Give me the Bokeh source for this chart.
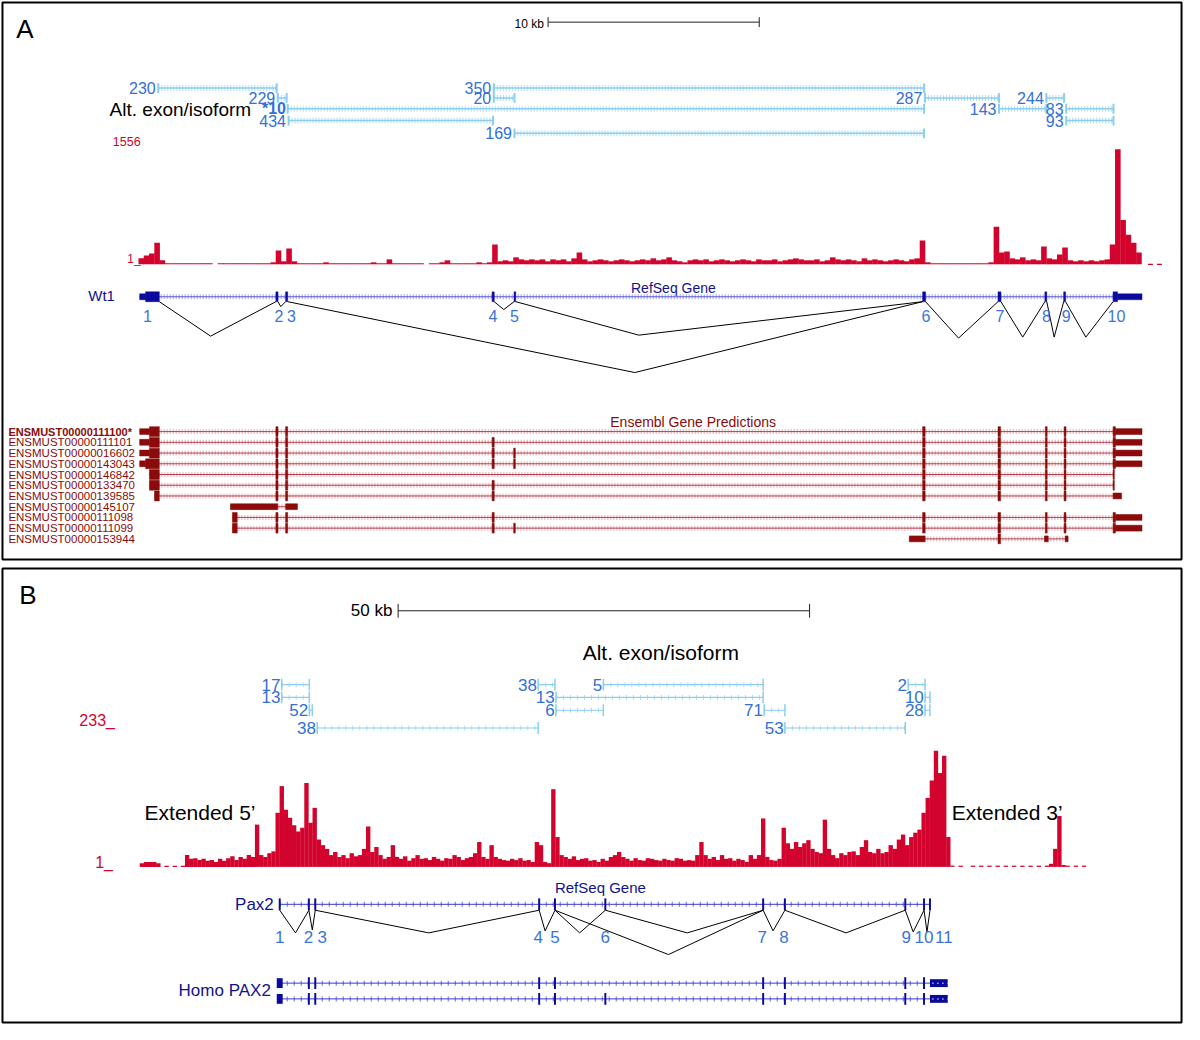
from bokeh.plotting import figure
from bokeh.models import Range1d
from bokeh.layouts import column
from bokeh.embed import file_html
from bokeh.resources import INLINE
from bokeh.core.properties import value

# =====================================================================
# DATA  (genomic positions in kb; coverage in reads)
# =====================================================================
# ---- Panel A : mouse Wt1 (kb from the Wt1 start) --------------------
A_SCALE_KB = 10
A_ALT_LABEL = ["230", "350", "229", "20", "287", "244", "*10", "143", "83", "434", "93", "169"]
A_ALT_START = [0.93, 16.82, 6.59, 16.82, 37.24, 42.99, 7.06, 40.75, 43.93, 7.10, 43.93, 17.80]
A_ALT_END = [6.54, 37.20, 7.01, 17.80, 40.75, 43.83, 37.20, 42.99, 46.17, 16.78, 46.17, 37.20]
A_ALT_ROW = [0, 0, 1, 1, 1, 1, 2, 2, 2, 3, 3, 4]

A_COV_MAX = 1556
A_COV_BIN_KB = 0.25
A_COV = [
    76, 114, 139, 278, 51,
    13, 13, 13, 13, 13, 13, 13, 13, 13, 0, 13, 13, 13, 13, 13, 13, 13, 13, 13, 13, 25,
    177, 38, 202, 38,
    13, 13, 13, 13, 13, 25, 13, 13, 13, 13, 13, 13, 13, 13, 25, 13, 13, 63, 13, 13,
    13, 13, 13, 13, 0, 13, 13, 25, 51, 13, 13, 13, 13, 13, 25, 13, 25,
    253,
    38, 51, 38, 89, 63, 51, 63, 51, 63, 38, 63, 51, 63, 38, 76, 152, 63, 38, 51, 63,
    51, 38, 51, 63, 51, 38, 51, 63, 51, 76, 51, 63, 89, 51, 38, 25, 51, 63, 51, 63,
    38, 51, 63, 51, 38, 51, 63, 51, 38, 63, 51, 51, 63, 38, 51, 63, 76, 63, 51, 51,
    63, 38, 51, 89, 63, 51, 63, 51, 38, 76, 51, 63, 51, 38, 51, 63, 51, 38, 63, 76,
    304, 25,
    13, 13, 13, 13, 13, 13, 13, 13, 13, 13, 13, 25,
    481, 152, 164, 76, 63, 89, 51, 63, 51,
    228, 76, 63, 127, 215, 51, 38, 51, 38, 51, 38, 51, 63,
    253, 1480, 569, 380, 278, 152,
]

A_GENE_NAME = "Wt1"
A_REF_BLOCK_START = [0.05, 0.33, 6.50, 6.96, 16.74, 17.78, 37.13, 40.70, 42.92, 43.81, 46.15, 46.36]
A_REF_BLOCK_END = [0.33, 0.98, 6.60, 7.06, 16.84, 17.86, 37.27, 40.84, 43.01, 43.90, 46.36, 47.52]
A_REF_BLOCK_CDS = [0, 1, 1, 1, 1, 1, 1, 1, 1, 1, 1, 0]
A_EXON_NUM = ["1", "2", "3", "4", "5", "6", "7", "8", "9", "10"]
A_EXON_NUM_KB = [0.42, 6.64, 7.24, 16.78, 17.80, 37.29, 40.79, 42.99, 43.93, 46.31]
# splice junctions: donor kb, acceptor kb, apex kb, apex depth (px row)
A_JUNC_FROM = [0.98, 6.60, 7.06, 16.84, 17.86, 37.27, 40.84, 43.01, 43.90]
A_JUNC_TO = [6.50, 6.96, 37.13, 17.78, 37.13, 40.70, 42.92, 43.81, 46.15]
A_JUNC_APEX = [3.41, 6.73, 23.50, 17.29, 23.69, 38.83, 41.87, 43.36, 44.86]
A_JUNC_DEPTH = [341, 311, 378, 314, 340, 343, 342, 342, 342]

ENS_NAMES = ["ENSMUST00000111100*", "ENSMUST00000111101", "ENSMUST00000016602",
             "ENSMUST00000143043", "ENSMUST00000146842", "ENSMUST00000133470",
             "ENSMUST00000139585", "ENSMUST00000145107", "ENSMUST00000111098",
             "ENSMUST00000111099", "ENSMUST00000153944"]
ENS_PARTS = {
    "u1a": (0.05, 0.51, 0), "c1a": (0.51, 0.98, 1), "u1b": (0.05, 0.33, 0),
    "c1b": (0.33, 0.98, 1), "c1c": (0.75, 0.98, 1),
    "x0": (4.35, 6.59, 0), "x1": (6.96, 7.52, 0), "x2": (4.44, 4.67, 1),
    "e2": (6.50, 6.60, 1), "e3": (6.96, 7.06, 1), "e4": (16.74, 16.84, 1),
    "e5": (17.76, 17.84, 1), "e6": (37.13, 37.25, 1), "e7": (40.70, 40.82, 1),
    "e8": (42.94, 43.03, 1), "e9": (43.83, 43.92, 1),
    "c10": (46.15, 46.26, 1), "u10": (46.26, 47.52, 0),
    "t10": (46.15, 46.21, 1), "s10": (46.15, 46.55, 0),
    "y0": (36.50, 37.25, 0), "y8": (42.90, 43.08, 0), "y9": (43.88, 44.02, 0),
}
ENS_TRANSCRIPTS = [
    "u1a c1a e2 e3 e6 e7 e8 e9 c10 u10",
    "u1a c1a e2 e3 e4 e6 e7 e8 e9 c10 u10",
    "u1a c1a e2 e3 e4 e5 e6 e7 e8 e9 c10 u10",
    "u1b c1b e2 e3 e4 e5 e6 e7 e8 e9 c10 u10",
    "c1a e2 e3 e6 e7 e8 e9 t10",
    "c1a e2 e3 e4 e6 e7 e8 e9 t10",
    "c1c e2 e3 e4 e6 e7 e8 e9 s10",
    "x0 x1",
    "x2 e2 e3 e4 e6 e7 e8 e9 c10 u10",
    "x2 e2 e3 e4 e5 e6 e7 e8 e9 c10 u10",
    "y0 e7 y8 y9",
]

# ---- Panel B : mouse Pax2 (kb from Pax2 exon 1) ---------------------
B_SCALE_KB = 50
B_ALT_LABEL = ["17", "38", "5", "2", "13", "13", "10", "52", "6", "71", "28", "38", "53"]
B_ALT_START = [0.24, 31.41, 39.33, 76.38, 0.24, 33.57, 78.42, 3.60, 33.57, 58.87, 78.42, 4.56, 61.39]
B_ALT_END = [3.60, 33.45, 58.75, 78.42, 3.60, 58.75, 79.02, 3.96, 39.33, 61.39, 79.02, 31.41, 76.02]
B_ALT_ROW = [0, 0, 0, 0, 1, 1, 1, 2, 2, 2, 2, 3, 3]

B_COV_MAX = 233
B_COV_START_KB = -17.0
B_COV_BIN_KB = 0.5
B_COV = [
    6, 8, 8, 8, 6, 0, 2, 0, 2, 0, 2,
    19, 13, 14, 11, 13, 10, 11, 8, 13, 10, 14, 17, 11, 16, 13, 19, 16,
    68, 19, 16, 22, 25,
    87, 130, 92, 79, 67, 57, 63, 135, 71, 95,
    44, 35, 29, 19, 24, 16, 19, 14, 22, 17,
    19, 29, 65, 24, 32, 19, 13, 16, 35, 16,
    13, 17, 10, 14, 19, 13, 14, 11, 16, 13,
    10, 14, 13, 19, 16, 11, 14, 16, 22, 40,
    16, 13, 35, 16, 13, 11, 10, 13, 11, 14,
    10, 11, 8, 40, 35, 8, 6, 125, 48, 19,
    16, 13, 17, 11, 13, 14, 10, 11, 8, 13,
    10, 16, 19, 24, 16, 13, 10, 14, 11, 10,
    14, 13, 11, 10, 13, 11, 10, 14, 13, 10,
    11, 10, 19, 40, 19, 13, 16, 11, 19, 13,
    14, 10, 13, 11, 8, 19, 13, 19, 78, 16,
    11, 10, 13, 63, 38, 29, 40, 32, 38, 43,
    29, 24, 22, 76, 29, 19, 14, 22, 19, 24,
    25, 19, 32, 43, 24, 22, 29, 22, 24, 35,
    29, 44, 52, 35, 48, 55, 60, 87, 111, 139,
    187, 151, 179, 48,
    2, 0, 2, 0, 0, 2, 0, 2, 0, 2, 0, 2, 0, 2, 0, 2, 0, 2, 0, 2, 0, 2, 0, 2,
    5, 29, 82, 3, 2, 0, 2, 0, 2,
]

B_GENE_NAME = "Pax2"
B_EXON_NUM = ["1", "2", "3", "4", "5", "6", "7", "8", "9", "10", "11"]
B_EXON_KB = [0.0, 3.54, 4.32, 31.53, 33.45, 39.57, 58.75, 61.39, 76.02, 78.30, 79.02]
B_EXON_NUM_KB = [0.0, 3.48, 5.16, 31.41, 33.45, 39.57, 58.63, 61.27, 76.14, 78.30, 80.70]
B_JUNC_FROM = [0, 1, 2, 3, 4, 4, 5, 6, 7, 8, 9]
B_JUNC_TO = [1, 2, 3, 4, 5, 6, 6, 7, 8, 9, 10]
B_JUNC_APEX = [1.92, 3.96, 18.11, 32.25, 36.45, 47.24, 49.52, 59.95, 68.82, 76.98, 78.66]
B_JUNC_DEPTH = [947, 944, 947, 945, 947, 969, 947, 945, 947, 946, 946]

HOMO_NAME = "Homo PAX2"
HOMO_ROW_EXONS = [[1, 2, 3, 4, 6, 7, 8, 9], [1, 2, 3, 4, 5, 6, 7, 8, 9]]
HOMO_FIRST = (-0.36, 0.36)
HOMO_LAST = (79.02, 81.18)

# =====================================================================
# STYLE / LAYOUT  (reference-pixel layout, scaled into 1184 x 1024)
# =====================================================================
W = 1184
SPLIT = 571                       # reference y where panel A's figure ends
HA = round(SPLIT * 1024 / 1040)
HB = 1024 - HA
FONT = "Liberation Sans"
RED = "#d2042d"
ALT_TXT = "#3370d8"
ALT_LINE = "#8ccdf0"
ALT_TICK = "#b0def6"
NAVY = "#12128c"
EXON_BLUE = "#0a0a9c"
GENE_LINE = "#5a5ad8"
GENE_TICK = "#a4a4f0"
ENS = "#8b0a0a"
ENS_LINE = "#b04050"
ENS_TICK = "#e6a8b0"
NUM_BLUE = "#3b74dc"

A_PX0, A_PXKB = 140.0, 21.4      # reference pixel of kb 0, pixels per kb
B_PX0, B_PXKB = 283.0, 8.34


def ax(px):
    return (px - A_PX0) / A_PXKB


def bx(px):
    return (px - B_PX0) / B_PXKB


def make_fig(x0, x1, ytop, ybot, h):
    p = figure(width=W, height=h, x_range=Range1d(x0, x1), y_range=Range1d(ybot, ytop),
               output_backend="svg", toolbar_location=None,
               x_axis_location=None, y_axis_location=None,
               min_border_left=0, min_border_right=0, min_border_top=0, min_border_bottom=0)
    p.grid.visible = False
    p.outline_line_color = None
    p.background_fill_color = "white"
    p.border_fill_color = "white"
    return p


def txt(p, x, y, s, size, color="black", align="left", style="normal"):
    p.text(x=x, y=y, text=s, text_font=value(FONT), text_font_size=value(f"{size}px"),
           text_color=color, text_align=align, text_baseline="middle", text_font_style=style)


def hatched(p, x0, x1, y, base, tick, dash, base_w=1.0, tick_w=5):
    p.segment(x0=x0, y0=y, x1=x1, y1=y, line_color=tick, line_width=tick_w, line_dash=dash)
    p.segment(x0=x0, y0=y, x1=x1, y1=y, line_color=base, line_width=base_w)


def cov_range(base, top, vmax, ybot, ytop):
    k = vmax / (base - top)
    return Range1d(start=(base - ybot) * k, end=(base - ytop) * k)


# =====================================================================
# PANEL A
# =====================================================================
pA = make_fig(ax(0), ax(1200), 0, SPLIT, HA)
pA.quad(left=[ax(2)], right=[ax(1197)], top=[2], bottom=[568],
        fill_color=None, line_color="black", line_width=2)
txt(pA, [ax(16)], [29], ["A"], 26)

# scale bar
sb = ax(555)
pA.segment([sb], [22], [sb + A_SCALE_KB], [22], line_color="#222222", line_width=1)
pA.segment([sb, sb + A_SCALE_KB], [17, 17], [sb, sb + A_SCALE_KB], [27, 27], line_color="#222222")
txt(pA, [sb - 0.2], [24], [f"{A_SCALE_KB} kb"], 12, align="right")

# alternative exons / isoforms
A_ROW_Y = [89, 99, 110, 122, 135]
ay = [A_ROW_Y[r] for r in A_ALT_ROW]
hatched(pA, A_ALT_START, A_ALT_END, ay, ALT_LINE, ALT_TICK, "1 2", 1.5, 6)
pA.segment(A_ALT_START + A_ALT_END, [y - 5 for y in ay] * 2, A_ALT_START + A_ALT_END,
           [y + 5 for y in ay] * 2, line_color=ALT_LINE, line_width=2)
norm = [i for i, s in enumerate(A_ALT_LABEL) if not s.startswith("*")]
bold = [i for i, s in enumerate(A_ALT_LABEL) if s.startswith("*")]
txt(pA, [A_ALT_START[i] - 0.12 for i in norm], [ay[i] for i in norm], [A_ALT_LABEL[i] for i in norm],
    16, ALT_TXT, align="right")
txt(pA, [A_ALT_START[i] - 0.08 for i in bold], [ay[i] for i in bold], [A_ALT_LABEL[i] for i in bold],
    16, ALT_TXT, align="right", style="bold")
txt(pA, [ax(254)], [111], ["Alt. exon/isoform"], 19, align="right")

# coverage
A_BASE, A_TOP = 268, 145
pA.extra_y_ranges = {"cov": cov_range(A_BASE, A_TOP, A_COV_MAX, SPLIT, 0)}
axc = [(i + 0.5) * A_COV_BIN_KB for i in range(len(A_COV))]
pA.vbar(x=axc, width=A_COV_BIN_KB * 1.06, top=A_COV, bottom=0, y_range_name="cov",
        fill_color=RED, line_color=None)
pA.segment([len(A_COV) * A_COV_BIN_KB + 0.3], [A_BASE], [len(A_COV) * A_COV_BIN_KB + 1.1], [A_BASE],
           line_color=RED, line_width=1.2, line_dash="5 4")
txt(pA, [ax(142)], [143], [str(A_COV_MAX)], 12.5, RED, align="right")
txt(pA, [ax(142)], [263], ["1_"], 12, RED, align="right")

# RefSeq gene
A_GENE_Y = 301
txt(pA, [ax(682)], [292], ["RefSeq Gene"], 14, NAVY, align="center")
txt(pA, [ax(116)], [300], [A_GENE_NAME], 15, NAVY, align="right")
hatched(pA, [A_REF_BLOCK_START[0]], [A_REF_BLOCK_END[-1]], [A_GENE_Y], GENE_LINE, GENE_TICK, "1 2", 1, 5)
pA.quad(left=A_REF_BLOCK_START, right=A_REF_BLOCK_END,
        top=[A_GENE_Y - (5 if c else 3) for c in A_REF_BLOCK_CDS],
        bottom=[A_GENE_Y + (5 if c else 3) for c in A_REF_BLOCK_CDS],
        fill_color=EXON_BLUE, line_color=EXON_BLUE, line_width=0.5)
A_JUNC_TOP = 306
pA.multi_line(xs=[[a, m, b] for a, m, b in zip(A_JUNC_FROM, A_JUNC_APEX, A_JUNC_TO)],
              ys=[[A_JUNC_TOP, d, A_JUNC_TOP] for d in A_JUNC_DEPTH], line_color="black", line_width=1)
txt(pA, A_EXON_NUM_KB, [321] * len(A_EXON_NUM), A_EXON_NUM, 16, NUM_BLUE, align="center")

# Ensembl predictions
txt(pA, [ax(702)], [428], ["Ensembl Gene Predictions"], 14, ENS, align="center")
ENS_Y0, ENS_DY = 438, 10.9
ens_y = [ENS_Y0 + k * ENS_DY for k in range(len(ENS_NAMES))]
l0, l1, ly = [], [], []
bl, br, bt, bb = [], [], [], []
for k, t in enumerate(ENS_TRANSCRIPTS):
    parts = [ENS_PARTS[c] for c in t.split()]
    l0.append(min(s for s, e, c in parts))
    l1.append(max(e for s, e, c in parts))
    ly.append(ens_y[k])
    for s, e, c in parts:
        h = 5 if c else 3
        bl.append(s); br.append(e); bt.append(ens_y[k] - h); bb.append(ens_y[k] + h)
hatched(pA, l0, l1, ly, ENS_LINE, ENS_TICK, "1 2", 1, 5)
pA.quad(left=bl, right=br, top=bt, bottom=bb, fill_color=ENS, line_color=ENS, line_width=0.5)
txt(pA, [ax(8)], [ens_y[0]], [ENS_NAMES[0]], 11, ENS, style="bold")
txt(pA, [ax(8)] * (len(ENS_NAMES) - 1), ens_y[1:], ENS_NAMES[1:], 11.5, ENS)

# =====================================================================
# PANEL B
# =====================================================================
pB = make_fig(bx(0), bx(1200), SPLIT, 1040, HB)
pB.quad(left=[bx(2)], right=[bx(1197)], top=[577], bottom=[1038],
        fill_color=None, line_color="black", line_width=2)
txt(pB, [bx(19)], [604], ["B"], 26)

sbB = bx(403)
pB.segment([sbB], [620], [sbB + B_SCALE_KB], [620], line_color="#222222", line_width=1)
pB.segment([sbB, sbB + B_SCALE_KB], [613, 613], [sbB, sbB + B_SCALE_KB], [627, 627], line_color="#222222")
txt(pB, [sbB - 0.7], [620], [f"{B_SCALE_KB} kb"], 17, align="right")

txt(pB, [bx(590)], [662], ["Alt. exon/isoform"], 21)
B_ROW_Y = [695, 708, 721, 739]
by = [B_ROW_Y[r] for r in B_ALT_ROW]
hatched(pB, B_ALT_START, B_ALT_END, by, ALT_LINE, ALT_TICK, "1 6", 1.2, 5)
pB.segment(B_ALT_START + B_ALT_END, [y - 6 for y in by] * 2, B_ALT_START + B_ALT_END,
           [y + 6 for y in by] * 2, line_color=ALT_LINE, line_width=1.5)
txt(pB, [s - 0.15 for s in B_ALT_START], by, B_ALT_LABEL, 17, ALT_TXT, align="right")

# coverage
B_BASE, B_TOP = 880, 733
pB.extra_y_ranges = {"cov": cov_range(B_BASE, B_TOP, B_COV_MAX, 1040, SPLIT)}
bxc = [B_COV_START_KB + (i + 0.5) * B_COV_BIN_KB for i in range(len(B_COV))]
pB.vbar(x=bxc, width=B_COV_BIN_KB * 1.06, top=B_COV, bottom=0, y_range_name="cov",
        fill_color=RED, line_color=None)
txt(pB, [bx(116)], [731], [f"{B_COV_MAX}_"], 16, RED, align="right")
txt(pB, [bx(114)], [876], ["1_"], 16, RED, align="right")
txt(pB, [bx(146)], [825], ["Extended 5\u2019"], 21)
txt(pB, [bx(964)], [825], ["Extended 3\u2019"], 21)

# RefSeq gene
B_GENE_Y = 918
txt(pB, [bx(608)], [901], ["RefSeq Gene"], 15, NAVY, align="center")
txt(pB, [bx(277)], [918], [B_GENE_NAME], 17, NAVY, align="right")
hatched(pB, [B_EXON_KB[0]], [B_EXON_KB[-1]], [B_GENE_Y], "#3a3ad0", "#6a6ae0", "1 6", 1, 5)
EW = 0.12
pB.quad(left=[e - EW for e in B_EXON_KB], right=[e + EW for e in B_EXON_KB],
        top=[B_GENE_Y - 6] * len(B_EXON_KB), bottom=[B_GENE_Y + 6] * len(B_EXON_KB),
        fill_color=EXON_BLUE, line_color=None)
B_JUNC_TOP = 924
pB.multi_line(xs=[[B_EXON_KB[a], m, B_EXON_KB[b]] for a, m, b in zip(B_JUNC_FROM, B_JUNC_APEX, B_JUNC_TO)],
              ys=[[B_JUNC_TOP, d, B_JUNC_TOP] for d in B_JUNC_DEPTH], line_color="black", line_width=1)
txt(pB, B_EXON_NUM_KB, [951] * len(B_EXON_NUM), B_EXON_NUM, 17, NUM_BLUE, align="center")

# Homo PAX2
HOMO_Y = [998, 1014]
txt(pB, [bx(274)], [1005], [HOMO_NAME], 17, NAVY, align="right")
hatched(pB, [B_EXON_KB[0]] * 2, [B_EXON_KB[-1]] * 2, HOMO_Y, "#3a3ad0", "#6a6ae0", "1 6", 1, 5)
hl, hr, ht, hb = [], [], [], []
for y, row in zip(HOMO_Y, HOMO_ROW_EXONS):
    for i in row:
        hl.append(B_EXON_KB[i] - EW); hr.append(B_EXON_KB[i] + EW); ht.append(y - 6); hb.append(y + 6)
    hl += [HOMO_FIRST[0], HOMO_LAST[0]]
    hr += [HOMO_FIRST[1], HOMO_LAST[1]]
    ht += [y - 5, y - 4]
    hb += [y + 5, y + 4]
pB.quad(left=hl, right=hr, top=ht, bottom=hb, fill_color=EXON_BLUE, line_color=None)
pB.segment([HOMO_LAST[0] + 0.3] * 2, HOMO_Y, [HOMO_LAST[1]] * 2, HOMO_Y,
           line_color="white", line_width=1.5, line_dash="1 4")

layout = column(pA, pB, spacing=0)
open("out.html", "w").write(file_html(layout, INLINE))
